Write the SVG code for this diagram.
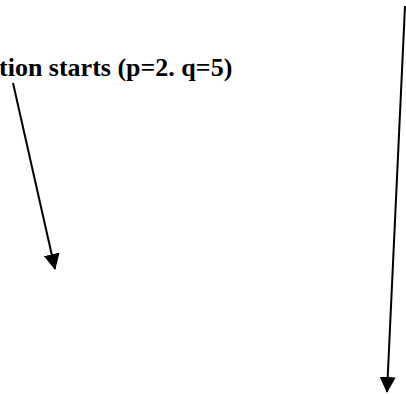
<svg xmlns="http://www.w3.org/2000/svg" width="406" height="394" viewBox="0 0 406 394">
<style>
.lbl{font-family:"Liberation Serif","Times New Roman",serif;font-weight:bold;font-size:26px;fill:#000}
.conn{stroke:#000;stroke-width:2;fill:none}
</style>
<defs>
<marker id="ah" markerWidth="8" markerHeight="8" refX="7.5" refY="4" orient="auto" markerUnits="strokeWidth">
<path d="M0,0 L8,4 L0,8 Z" fill="#000"/>
</marker>
</defs>
<rect width="406" height="394" fill="#fff"/>
<g id="label"><text class="lbl" x="-1" y="76">tion starts (p=2. q=5)</text></g>
<g id="connectors">
<line class="conn" x1="13" y1="83" x2="55" y2="269" marker-end="url(#ah)"/>
<line class="conn" x1="405" y1="6" x2="387" y2="392" marker-end="url(#ah)"/>
</g>
</svg>
